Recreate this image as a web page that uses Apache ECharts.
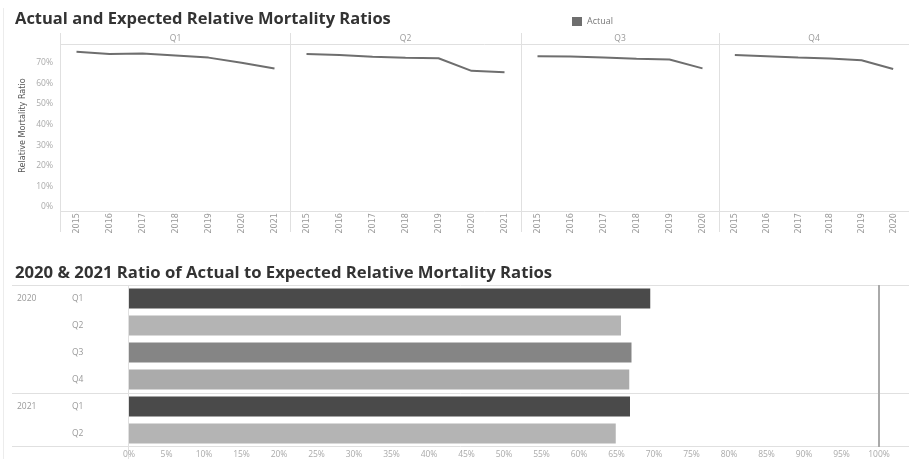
<!DOCTYPE html>
<html><head><meta charset="utf-8">
<script src="https://cdn.jsdelivr.net/npm/echarts@6/dist/echarts.min.js"></script>
<style>html,body{margin:0;padding:0;background:#fff}#c{width:909px;height:459px}</style>
</head><body><div id="c"></div>
<script>
// ---- data ----
const quarters = ['Q1', 'Q2', 'Q3', 'Q4'];
const yearsQ1 = ['2015', '2016', '2017', '2018', '2019', '2020', '2021'];
const yearsQ2 = ['2015', '2016', '2017', '2018', '2019', '2020', '2021'];
const yearsQ3 = ['2015', '2016', '2017', '2018', '2019', '2020'];
const yearsQ4 = ['2015', '2016', '2017', '2018', '2019', '2020'];
const actualQ1 = [0.752, 0.742, 0.744, 0.734, 0.724, 0.699, 0.671];
const actualQ2 = [0.742, 0.737, 0.728, 0.723, 0.721, 0.660, 0.653];
const actualQ3 = [0.731, 0.729, 0.724, 0.718, 0.715, 0.672];
const actualQ4 = [0.737, 0.731, 0.724, 0.720, 0.711, 0.669];
const barYears = ['2020', '2020', '2020', '2020', '2021', '2021'];
const barQuarters = ['Q1', 'Q2', 'Q3', 'Q4', 'Q1', 'Q2'];
const barRatios = [0.695, 0.656, 0.670, 0.667, 0.668, 0.649];
const referenceRatio = 1;

// ---- styles / layout ----
const panelYears = [yearsQ1, yearsQ2, yearsQ3, yearsQ4];
const panelValues = [actualQ1, actualQ2, actualQ3, actualQ4];
const panelBoxes = [{left: 60, width: 231}, {left: 290, width: 231}, {left: 521, width: 198}, {left: 719, width: 199}];
const quarterColors = {Q1: '#4a4a4a', Q2: '#b4b4b4', Q3: '#858585', Q4: '#ababab'};
const lineColor = '#6e6e6e';
const font = "'Open Sans', sans-serif";
const narrow = "'Liberation Sans Narrow', 'DejaVu Sans Condensed', sans-serif";
const pct = v => Math.round(v * 100) + '%';

const grids = [], xAxes = [], yAxes = [], series = [];
panelBoxes.forEach((b, i) => {
  grids.push({left: b.left, width: b.width, top: 44, height: 163});
  xAxes.push({
    type: 'category', gridIndex: i, data: panelYears[i], boundaryGap: true,
    axisLine: {show: false}, axisTick: {show: false},
    axisLabel: {rotate: 90, fontSize: 9, color: '#999', fontFamily: narrow, margin: 6, interval: 0}
  });
  xAxes.push({
    type: 'category', gridIndex: i, position: 'top', data: [quarters[i]], boundaryGap: true,
    axisLine: {show: false}, axisTick: {show: false},
    axisLabel: {fontSize: 8.5, color: '#999', fontFamily: font, margin: 1}
  });
  yAxes.push({
    type: 'value', gridIndex: i, min: 0, max: 0.79, interval: 0.1,
    axisLine: {show: false}, axisTick: {show: false}, splitLine: {show: false},
    axisLabel: {show: i === 0, formatter: pct, fontSize: 8.5, color: '#aaa', fontFamily: font, margin: 7, showMaxLabel: false},
    name: i === 0 ? 'Relative Mortality Ratio' : '', nameLocation: 'middle', nameRotate: 90, nameGap: 33,
    nameTextStyle: {fontSize: 9, color: '#555', fontFamily: narrow}
  });
  series.push({
    name: 'Actual', type: 'line', xAxisIndex: i * 2, yAxisIndex: i, data: panelValues[i],
    symbol: 'none', color: lineColor, lineStyle: {width: 2, color: lineColor}, silent: true
  });
});

// bottom bar chart
const barKeys = barYears.map((y, i) => y + ' ' + barQuarters[i]);
grids.push({left: 129, top: 285, right: 0, height: 162});
const bg = grids.length - 1;
xAxes.push({
  type: 'value', gridIndex: bg, min: 0, max: 1.04, interval: 0.05,
  axisLine: {show: false}, axisTick: {show: false}, splitLine: {show: false},
  axisLabel: {formatter: pct, fontSize: 8.5, color: '#aaa', fontFamily: font, margin: 3, showMaxLabel: false}
});
yAxes.push({
  type: 'category', gridIndex: bg, data: barKeys, inverse: true, position: 'left',
  axisLine: {show: false}, axisTick: {show: false},
  axisLabel: {formatter: (v, i) => barQuarters[i], align: 'left', margin: 57, fontSize: 8.5, color: '#999', fontFamily: font}
});
yAxes.push({
  type: 'category', gridIndex: bg, data: barKeys, inverse: true, position: 'left', offset: 0,
  axisLine: {show: false}, axisTick: {show: false},
  axisLabel: {formatter: (v, i) => (i === 0 || barYears[i] !== barYears[i - 1]) ? barYears[i] : '', align: 'left', margin: 112, fontSize: 8.5, color: '#999', fontFamily: font, interval: 0}
});
series.push({
  type: 'bar', xAxisIndex: xAxes.length - 1, yAxisIndex: yAxes.length - 2, barWidth: 20,
  data: barRatios.map((v, i) => ({value: v, itemStyle: {color: quarterColors[barQuarters[i]]}})),
  silent: true,
  markLine: {silent: true, symbol: 'none', label: {show: false},
    lineStyle: {color: '#aaa', width: 2, type: 'solid'}, data: [{xAxis: referenceRatio}]}
});

const L = (x1, y1, x2, y2, c) => ({type: 'line', shape: {x1, y1, x2, y2}, style: {stroke: c || '#e0e0e0', lineWidth: 1}, silent: true});
const graphic = [
  L(3.5, 8, 3.5, 459, '#ececec'),
  L(60.5, 33, 60.5, 232), L(290.5, 33, 290.5, 232), L(521.5, 33, 521.5, 232), L(719.5, 33, 719.5, 232),
  L(60, 44.5, 909, 44.5), L(60, 211.5, 909, 211.5),
  L(12, 285.5, 909, 285.5), L(12, 393.5, 909, 393.5), L(12, 446.5, 909, 446.5),
  L(128.5, 285, 128.5, 459)
];

const chart = echarts.init(document.getElementById('c'));
chart.setOption({
  backgroundColor: '#fff',
  animation: false,
  title: [
    {text: 'Actual and Expected Relative Mortality Ratios', left: 10, top: 6,
     textStyle: {fontSize: 16.5, fontWeight: 'bold', color: '#333', fontFamily: font}},
    {text: '2020 & 2021 Ratio of Actual to Expected Relative Mortality Ratios', left: 10, top: 260,
     textStyle: {fontSize: 16.7, fontWeight: 'bold', color: '#333', fontFamily: font}}
  ],
  legend: {data: ['Actual'], left: 567, top: 12, icon: 'rect', itemWidth: 10, itemHeight: 9, itemGap: 5,
    textStyle: {fontSize: 9, color: '#777', fontFamily: font}},
  grid: grids, xAxis: xAxes, yAxis: yAxes, series, graphic
});
</script></body></html>
